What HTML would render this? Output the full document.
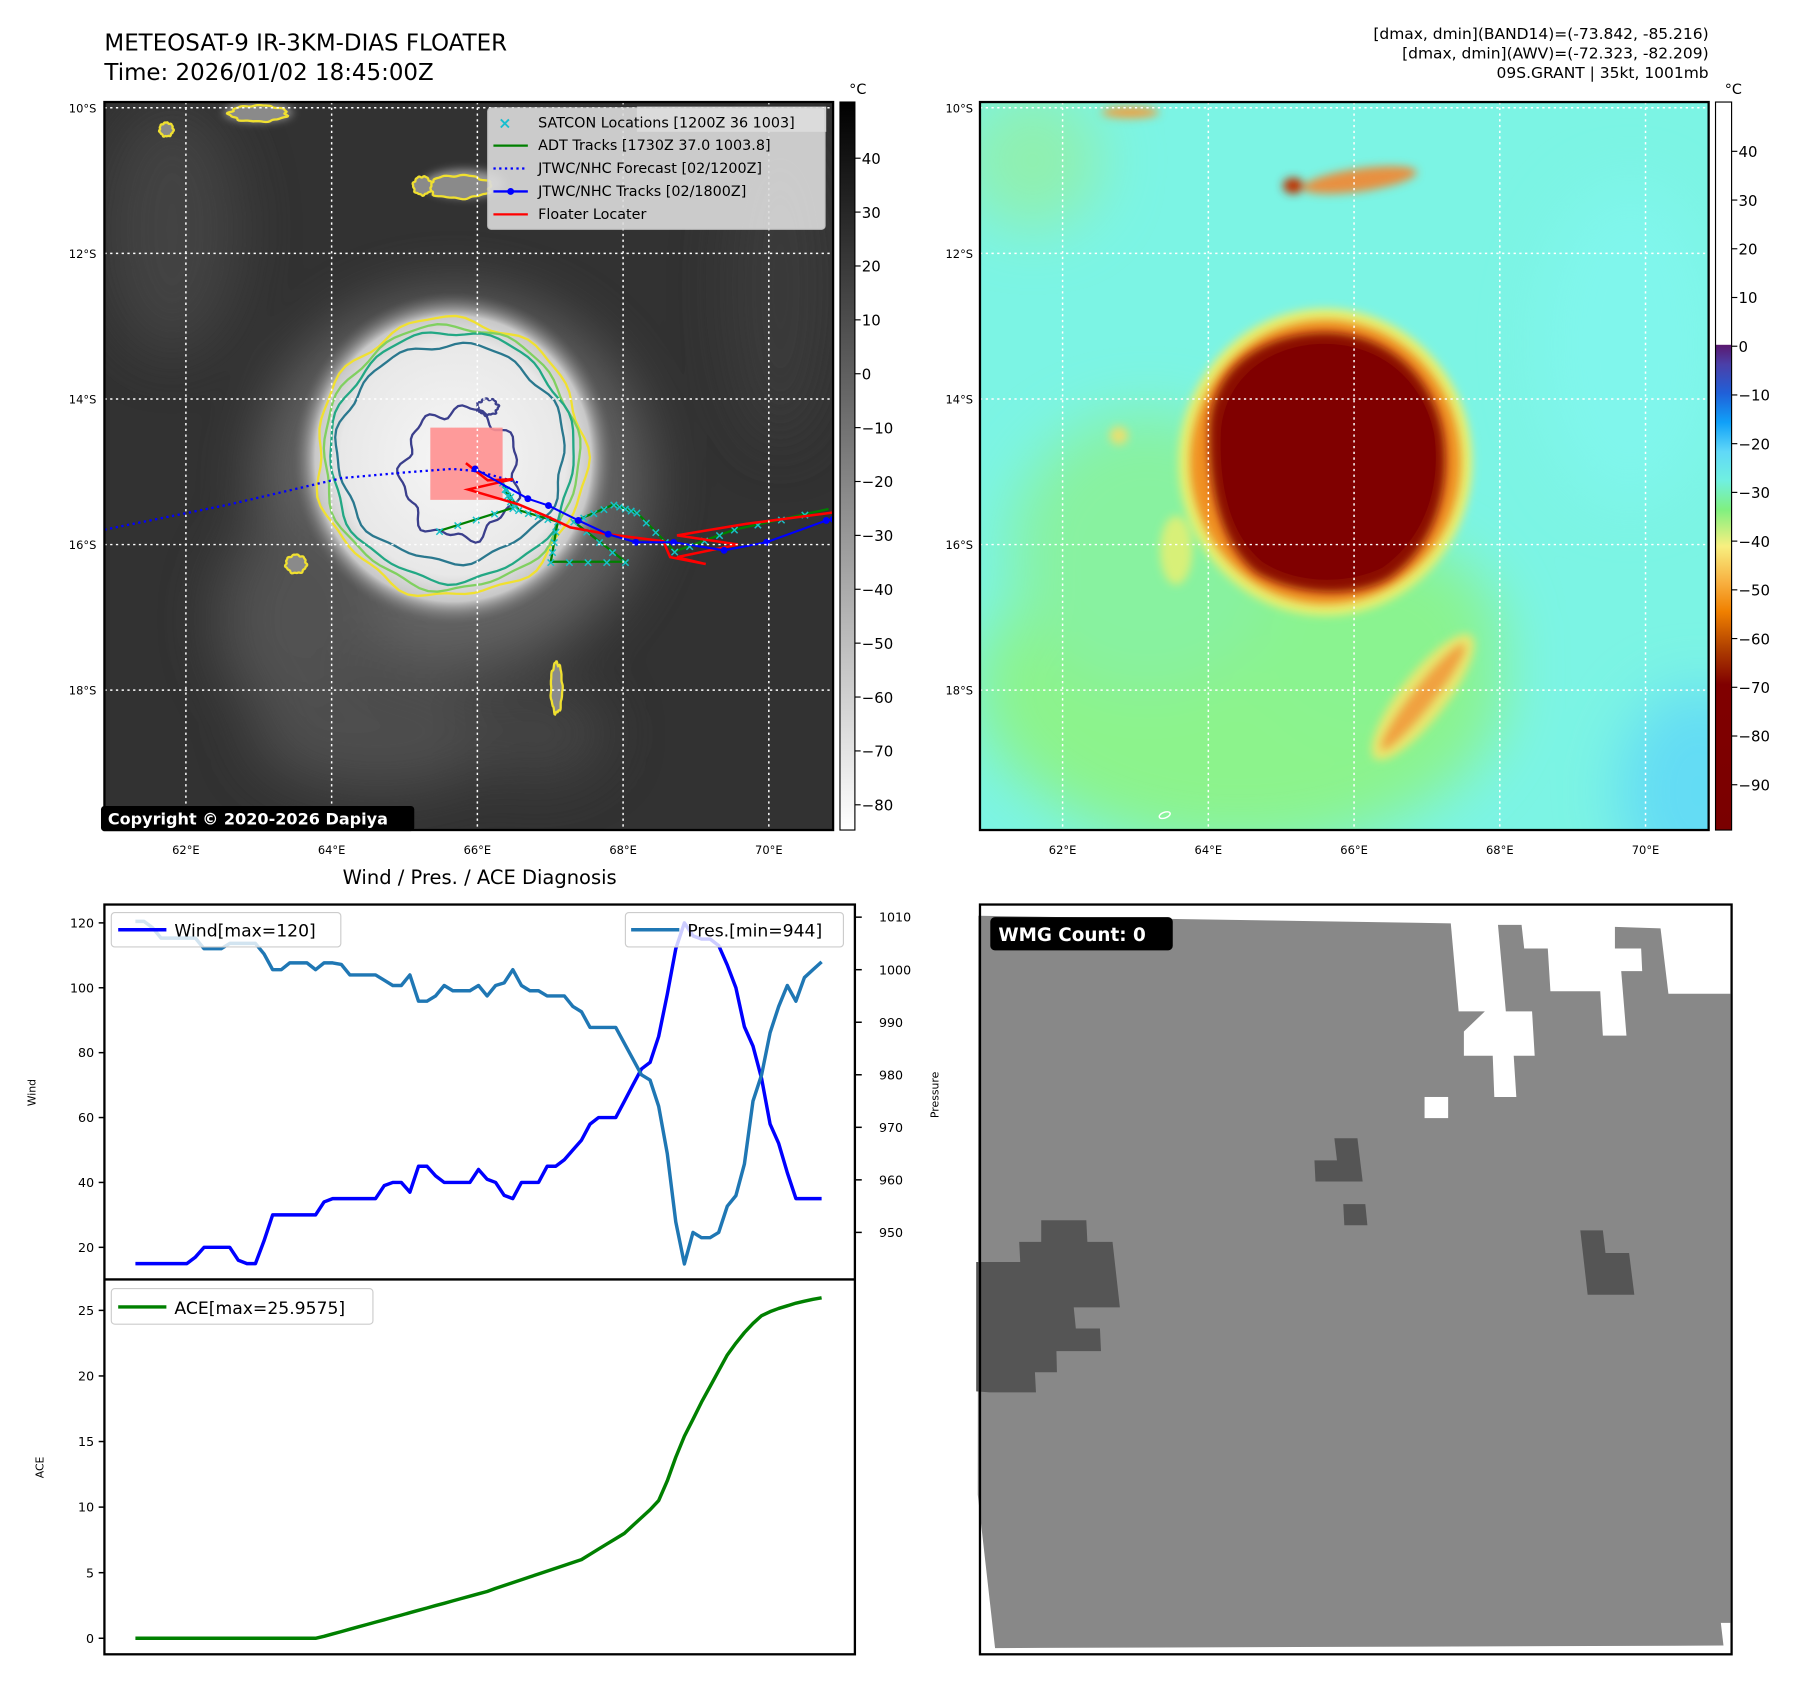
<!DOCTYPE html>
<html><head><meta charset="utf-8"><title>METEOSAT-9 Floater</title>
<style>
html,body{margin:0;padding:0;background:#fff}
svg{display:block}
text{font-family:"DejaVu Sans","Liberation Sans",sans-serif}
</style></head>
<body>
<svg id="fig" xmlns="http://www.w3.org/2000/svg" width="1797" height="1691" viewBox="0 0 1566 1475" preserveAspectRatio="none">
<defs>
  <filter id="b2"><feGaussianBlur stdDeviation="2"/></filter>
  <filter id="b4"><feGaussianBlur stdDeviation="4"/></filter>
  <filter id="b10"><feGaussianBlur stdDeviation="10"/></filter>
  <filter id="b25"><feGaussianBlur stdDeviation="25"/></filter>
  <clipPath id="clipL"><rect x="91" y="89" width="635" height="635"/></clipPath>
  <clipPath id="clipR"><rect x="854" y="89" width="635" height="635"/></clipPath>
  <clipPath id="clipW"><rect x="91" y="789" width="654" height="327"/></clipPath>
  <clipPath id="clipA"><rect x="91" y="1116" width="654" height="327"/></clipPath>
  <linearGradient id="cbGray" x1="0" y1="0" x2="0" y2="1">
    <stop offset="0" stop-color="#000"/><stop offset="1" stop-color="#fff"/>
  </linearGradient>
  <linearGradient id="cbJet" x1="0" y1="0" x2="0" y2="1">
    <stop offset="0" stop-color="#fff"/><stop offset="0.333" stop-color="#fff"/>
    <stop offset="0.334" stop-color="#5a1a70"/><stop offset="0.36" stop-color="#4b3fa8"/>
    <stop offset="0.40" stop-color="#2060d8"/><stop offset="0.44" stop-color="#10a0f8"/>
    <stop offset="0.48" stop-color="#60d8f8"/><stop offset="0.52" stop-color="#70f0e0"/>
    <stop offset="0.56" stop-color="#80f080"/><stop offset="0.61" stop-color="#f8f080"/>
    <stop offset="0.66" stop-color="#f8b040"/><stop offset="0.70" stop-color="#f08000"/>
    <stop offset="0.75" stop-color="#b04000"/><stop offset="0.80" stop-color="#800000"/>
    <stop offset="1" stop-color="#7a0000"/>
  </linearGradient>
  <radialGradient id="cloudCore" cx="0.5" cy="0.5" r="0.5">
    <stop offset="0" stop-color="#f6f6f6"/><stop offset="0.7" stop-color="#e8e8e8"/>
    <stop offset="0.86" stop-color="#c8c8c8"/><stop offset="1" stop-color="#6a6a6a" stop-opacity="0"/>
  </radialGradient>
</defs>

<text x="91" y="44" font-size="20">METEOSAT-9 IR-3KM-DIAS FLOATER</text>
<text x="91" y="70" font-size="20">Time: 2026/01/02 18:45:00Z</text>
<g font-size="13.5" text-anchor="end">
  <text x="1489" y="34">[dmax, dmin](BAND14)=(-73.842, -85.216)</text>
  <text x="1489" y="51">[dmax, dmin](AWV)=(-72.323, -82.209)</text>
  <text x="1489" y="68">09S.GRANT | 35kt, 1001mb</text>
</g>

<g>
 <g clip-path="url(#clipL)">
  <rect x="91" y="89" width="635" height="635" fill="#323232"/>
  <g filter="url(#b25)" opacity="0.8">
    <ellipse cx="395" cy="420" rx="170" ry="165" fill="#707070"/>
    <ellipse cx="260" cy="540" rx="70" ry="90" fill="#5a5a5a"/>
    <ellipse cx="330" cy="640" rx="110" ry="50" fill="#555"/>
    <ellipse cx="150" cy="200" rx="60" ry="110" fill="#474747"/>
    <ellipse cx="470" cy="640" rx="60" ry="40" fill="#4a4a4a"/>
    <ellipse cx="680" cy="250" rx="45" ry="140" fill="#3e3e3e"/>
  </g>
  <ellipse cx="395" cy="400" rx="140" ry="145" fill="url(#cloudCore)"/>
  <g filter="url(#b4)">
    <ellipse cx="405" cy="160" rx="35" ry="12" fill="#9a9a9a"/>
    <ellipse cx="225" cy="98" rx="30" ry="8" fill="#999"/>
  </g>
  <g id="contours" fill="none" stroke-width="2"></g>
  <rect x="375" y="373" width="63" height="63" fill="#ff9090" opacity="0.9"/>
  <g id="tracks"></g>
  <g id="gridL" stroke="#fff" stroke-width="1.3" stroke-dasharray="2,3"></g>
  <g>
    <rect x="555" y="93" width="165" height="22" fill="#fff" opacity="0.8"/>
    <rect x="425" y="94" width="294" height="106" rx="3" fill="#dcdcdc" opacity="0.9" stroke="#ccc"/>
    <text x="440" y="112" font-size="14" fill="#17becf" font-weight="bold" text-anchor="middle">×</text>
    <line x1="430" y1="127" x2="460" y2="127" stroke="#008000" stroke-width="2"/>
    <line x1="430" y1="147" x2="460" y2="147" stroke="#0000ff" stroke-width="2" stroke-dasharray="2,3"/>
    <line x1="430" y1="167" x2="460" y2="167" stroke="#0000ff" stroke-width="2"/>
    <circle cx="445" cy="167" r="3" fill="#0000ff"/>
    <line x1="430" y1="187" x2="460" y2="187" stroke="#ff0000" stroke-width="2"/>
    <g font-size="12.5">
      <text x="469" y="111">SATCON Locations [1200Z 36 1003]</text>
      <text x="469" y="131">ADT Tracks [1730Z 37.0 1003.8]</text>
      <text x="469" y="151">JTWC/NHC Forecast [02/1200Z]</text>
      <text x="469" y="171">JTWC/NHC Tracks [02/1800Z]</text>
      <text x="469" y="191">Floater Locater</text>
    </g>
  </g>
 </g>
 <rect x="91" y="89" width="635" height="635" fill="none" stroke="#000" stroke-width="2"/>
 <g>
   <rect x="88" y="703" width="273" height="22" rx="3" fill="#000"/>
   <text x="94" y="719" font-size="14" font-weight="bold" fill="#fff">Copyright © 2020-2026 Dapiya</text>
 </g>
 <g>
   <rect x="732" y="89" width="13" height="635" fill="url(#cbGray)" stroke="#000" stroke-width="1"/>
   <text x="740" y="82" font-size="12.5">°C</text>
   <g id="cbLticks" font-size="13"></g>
 </g>
</g>

<g>
 <g clip-path="url(#clipR)">
  <rect x="854" y="89" width="635" height="635" fill="#7cf4e4"/>
  <g filter="url(#b25)">
    <ellipse cx="1080" cy="600" rx="230" ry="140" fill="#8cf38c"/>
    <ellipse cx="1000" cy="480" rx="120" ry="120" fill="#88f2a0"/>
    <ellipse cx="1200" cy="560" rx="110" ry="90" fill="#8af390"/>
    <ellipse cx="900" cy="140" rx="60" ry="60" fill="#90f0b0"/>
    <ellipse cx="1480" cy="690" rx="70" ry="90" fill="#64dcf4"/>
    <ellipse cx="1420" cy="300" rx="80" ry="140" fill="#80f6ec"/>
  </g>
  <g filter="url(#b4)">
    <ellipse cx="1155" cy="403" rx="128" ry="134" fill="#e8f070"/>
    <ellipse cx="1240" cy="608" rx="20" ry="68" transform="rotate(38 1240 608)" fill="#e8e870"/>
    <ellipse cx="1025" cy="480" rx="14" ry="30" fill="#d8f078"/>
    <ellipse cx="975" cy="380" rx="8" ry="8" fill="#e8e070"/>
  </g>
  <g filter="url(#b4)">
    <ellipse cx="1155" cy="403" rx="118" ry="124" fill="#f09020"/>
    <ellipse cx="1240" cy="608" rx="9" ry="58" transform="rotate(38 1240 608)" fill="#f0a040"/>
    <ellipse cx="1185" cy="157" rx="50" ry="10" transform="rotate(-8 1185 157)" fill="#e89040"/>
    <ellipse cx="1127" cy="162" rx="9" ry="7" fill="#c03000"/>
    <ellipse cx="985" cy="98" rx="25" ry="5" fill="#f0a040"/>
  </g>
  <g filter="url(#b4)">
    <path d="M1150 290 C1210 288 1250 330 1258 380 C1265 430 1248 480 1210 505 C1180 522 1130 520 1095 500 C1062 475 1052 420 1054 370 C1058 320 1100 292 1150 290 Z" fill="#8a0a00"/>
  </g>
  <path d="M1150 300 C1205 298 1242 335 1250 380 C1256 428 1240 470 1205 495 C1175 510 1130 510 1100 490 C1070 465 1062 420 1064 375 C1068 330 1105 302 1150 300 Z" fill="#800000"/>
  <g id="gridR" stroke="#fff" stroke-width="1.3" stroke-dasharray="2,3"></g>
  <ellipse cx="1015" cy="711" rx="5" ry="2.5" fill="none" stroke="#fff" stroke-width="1.2" transform="rotate(-20 1015 711)"/>
 </g>
 <rect x="854" y="89" width="635" height="635" fill="none" stroke="#000" stroke-width="2"/>
 <g>
   <rect x="1495" y="89" width="14" height="635" fill="url(#cbJet)" stroke="#000" stroke-width="1"/>
   <text x="1503" y="82" font-size="12.5">°C</text>
   <g id="cbRticks" font-size="13"></g>
 </g>
</g>

<g>
  <text x="418" y="771" font-size="17" text-anchor="middle">Wind / Pres. / ACE Diagnosis</text>
  <g id="chartW" clip-path="url(#clipW)"></g>
  <g id="chartA" clip-path="url(#clipA)"></g>
  <rect x="91" y="789" width="654" height="654" fill="none" stroke="#000" stroke-width="2"/>
  <line x1="91" y1="1116" x2="745" y2="1116" stroke="#000" stroke-width="2"/>
  <g id="axesTicks" font-size="11"></g>
  <text x="31" y="953" font-size="9.5" transform="rotate(-90 31 953)" text-anchor="middle">Wind</text>
  <text x="818" y="955" font-size="9.5" transform="rotate(-90 818 955)" text-anchor="middle">Pressure</text>
  <text x="38" y="1280" font-size="9.5" transform="rotate(-90 38 1280)" text-anchor="middle">ACE</text>
  <g>
    <rect x="97" y="796" width="200" height="30" rx="3" fill="#fff" fill-opacity="0.8" stroke="#ccc"/>
    <line x1="103" y1="811" x2="145" y2="811" stroke="#0000ff" stroke-width="3"/>
    <text x="152" y="817" font-size="15">Wind[max=120]</text>
  </g>
  <g>
    <rect x="545" y="796" width="190" height="30" rx="3" fill="#fff" fill-opacity="0.8" stroke="#ccc"/>
    <line x1="550" y1="811" x2="592" y2="811" stroke="#1f77b4" stroke-width="3"/>
    <text x="599" y="817" font-size="15">Pres.[min=944]</text>
  </g>
  <g>
    <rect x="97" y="1124" width="228" height="31" rx="3" fill="#fff" fill-opacity="0.8" stroke="#ccc"/>
    <line x1="103" y1="1140" x2="145" y2="1140" stroke="#008000" stroke-width="3"/>
    <text x="152" y="1146" font-size="15">ACE[max=25.9575]</text>
  </g>
</g>

<g>
  <rect x="854" y="789" width="655" height="654" fill="#fff"/>
  <g transform="translate(850.7,781.25) scale(0.457,0.439)">
    <polygon points="4,40 905,55 920,230 970,230 930,270 930,318 985,318 988,400 1030,400 1025,318 1065,318 1060,230 1010,230 995,58 1040,58 1045,105 1090,105 1095,190 1190,190 1195,278 1240,278 1230,150 1270,150 1268,105 1218,105 1218,62 1305,65 1320,195 1438,195 1438,1445 1420,1445 1425,1490 36,1495 3,1190" fill="#888"/>
    <rect x="855" y="400" width="45" height="42" fill="#fff"/>
    <g fill="#555">
      <polygon points="683,482 727,482 737,568 690,568 690,568 647,568 645,526 688,526"/>
      <polygon points="700,613 742,613 746,655 702,655"/>
      <polygon points="1152,665 1195,665 1200,710 1245,710 1255,793 1166,793"/>
      <polygon points="0,728 84,728 82,688 124,688 124,645 210,645 212,688 260,688 274,818 186,818 190,860 236,860 238,905 153,905 154,947 112,947 114,987 26,987 0,985"/>
    </g>
  </g>
  <rect x="854" y="789" width="655" height="654" fill="none" stroke="#000" stroke-width="2"/>
  <g>
    <rect x="863" y="800" width="159" height="29" rx="4" fill="#000"/>
    <text x="870" y="821" font-size="16" font-weight="bold" fill="#fff">WMG Count: 0</text>
  </g>
</g>
</svg>

<script>
const windValues = [15,15,15,15,15,15,15,17,20,20,20,20,16,15,15,22,30,30,30,30,30,30,34,35,35,35,35,35,35,39,40,40,37,45,45,42,40,40,40,40,44,41,40,36,35,40,40,40,45,45,47,50,53,58,60,60,60,65,70,75,77,85,98,112,120,116,115,115,113,107,100,88,82,72,58,52,43,35,35,35,35];
const presValues = [1009.2,1009.2,1008,1006,1006,1006,1006,1006,1004,1004,1004,1005,1005,1005,1005,1003,1000,1000,1001.3,1001.3,1001.3,1000,1001.3,1001.3,1001,999,999,999,999,998,997,997,999,994,994,995,997,996,996,996,997,995,997,997.5,1000,997,996,996,995,995,995,993,992,989,989,989,989,986,983,980,979,974,965,952,944,950,949,949,950,955,957,963,975,980,988,993,997,994,998.5,1000,1001.5];
const aceValues = [0,0,0,0,0,0,0,0,0,0,0,0,0,0,0,0,0,0,0,0,0,0,0.15,0.33,0.51,0.69,0.87,1.05,1.23,1.41,1.59,1.77,1.95,2.13,2.31,2.49,2.67,2.85,3.03,3.21,3.39,3.57,3.8,4.02,4.24,4.46,4.68,4.9,5.12,5.34,5.56,5.78,6.0,6.4,6.8,7.2,7.6,8.0,8.6,9.2,9.8,10.5,12.0,13.8,15.4,16.7,18.0,19.2,20.4,21.6,22.5,23.3,24.0,24.6,24.9,25.15,25.35,25.55,25.7,25.85,25.96];
const windTicks = [20,40,60,80,100,120];
const presTicks = [950,960,970,980,990,1000,1010];
const aceTicks = [0,5,10,15,20,25];
const latLabels = ["10°S","12°S","14°S","16°S","18°S"];
const lonLabels = ["62°E","64°E","66°E","68°E","70°E"];
const irCbTicks = [40,30,20,10,0,-10,-20,-30,-40,-50,-60,-70,-80];
const awvCbTicks = [40,30,20,10,0,-10,-20,-30,-40,-50,-60,-70,-80,-90];

const NS = "http://www.w3.org/2000/svg";
function mk(tag, attrs, parent){ const e=document.createElementNS(NS,tag); for(const k in attrs) e.setAttribute(k,attrs[k]); parent.appendChild(e); return e; }

const xIdx = i => 118 + i*(598/(windValues.length-1));
const yWind = v => 1088 - (v-20)*2.83;
const yPres = v => 800 + (1010-v)*4.583;
const yAce = v => 1429 - v*11.44;

function linePath(vals, yf){ return vals.map((v,i)=>(i?'L':'M')+xIdx(i).toFixed(1)+' '+yf(v).toFixed(1)).join(' '); }

const cW = document.getElementById('chartW');
const wl = mk('path',{d:linePath(windValues,yWind),fill:'none',stroke:'#0000ff','stroke-width':3,'stroke-linejoin':'round'},cW);


const pl = mk('path',{d:linePath(presValues,yPres),fill:'none',stroke:'#1f77b4','stroke-width':3,'stroke-linejoin':'round'},cW);


const cA = document.getElementById('chartA');
const al = mk('path',{d:linePath(aceValues,yAce),fill:'none',stroke:'#008000','stroke-width':3,'stroke-linejoin':'round'},cA);



const at = document.getElementById('axesTicks');
windTicks.forEach(v=>{ const y=yWind(v);
  mk('line',{x1:86,y1:y,x2:91,y2:y,stroke:'#000','stroke-width':1.3},at);
  const t=mk('text',{x:82,y:y+4,'text-anchor':'end'},at); t.textContent=v;
  
   });
presTicks.forEach(v=>{ const y=yPres(v);
  mk('line',{x1:745,y1:y,x2:751,y2:y,stroke:'#000','stroke-width':1.3},at);
  const t=mk('text',{x:766,y:y+4},at); t.textContent=v;
  
   });
aceTicks.forEach(v=>{ const y=yAce(v);
  mk('line',{x1:86,y1:y,x2:91,y2:y,stroke:'#000','stroke-width':1.3},at);
  const t=mk('text',{x:82,y:y+4,'text-anchor':'end'},at); t.textContent=v;
  
   });

const latY = k => 94 + k*127;
const lonXL = k => 162 + k*127;
function grid(id, x0, x1, xoff){
  const g=document.getElementById(id);
  latLabels.forEach((s,k)=>mk('line',{x1:x0,y1:latY(k),x2:x1,y2:latY(k)},g));
  lonLabels.forEach((s,k)=>mk('line',{x1:lonXL(k)+xoff,y1:89,x2:lonXL(k)+xoff,y2:724},g));
}
grid('gridL',91,726,0); grid('gridR',854,1489,764);
const svg=document.getElementById('fig');
[0,764].forEach(off=>{
  latLabels.forEach((s,k)=>{ const t=mk('text',{x:84+off,y:latY(k)+4,'font-size':10,'text-anchor':'end'},svg); t.textContent=s;
    
     });
  lonLabels.forEach((s,k)=>{ const t=mk('text',{x:lonXL(k)+off,y:745,'font-size':10,'text-anchor':'middle'},svg); t.textContent=s;
    
     });
});
const cbL=document.getElementById('cbLticks');
irCbTicks.forEach((v,k)=>{ const y=138+k*47;
  mk('line',{x1:745,y1:y,x2:750,y2:y,stroke:'#000'},cbL);
  const t=mk('text',{x:751,y:y+5},cbL); t.textContent=String(v).replace('-','\u2212');
  
   });
const cbR=document.getElementById('cbRticks');
awvCbTicks.forEach((v,k)=>{ const y=132+k*42.5;
  mk('line',{x1:1509,y1:y,x2:1514,y2:y,stroke:'#000'},cbR);
  const t=mk('text',{x:1515,y:y+5},cbR); t.textContent=String(v).replace('-','\u2212');
  
   });

function wobble(cx,cy,rx,ry,amp,seed){
  let d='';
  for(let a=0;a<=360;a+=4){
    const r=a*Math.PI/180;
    const w=1+amp*(Math.sin(r*7+seed)*0.6+Math.sin(r*13+seed*2)*0.4);
    const x=cx+rx*w*Math.cos(r), y=cy+ry*w*Math.sin(r);
    d+=(a?'L':'M')+x.toFixed(1)+' '+y.toFixed(1);
  }
  return d+'Z';
}
const cg=document.getElementById('contours');
[[393,399,117,121,0.04,1,'#f0e030'],[393,399,111,115,0.03,2,'#80d060'],[394,398,106,109,0.03,3,'#22a884'],[393,395,99,95,0.04,4,'#2a788e'],[401,413,50,56,0.12,5,'#3b3f8c']].forEach(c=>{
  const p=mk('path',{d:wobble(c[0],c[1],c[2],c[3],c[4],c[5]),stroke:c[6],fill:'none','stroke-width':2},cg);
  
  
});
[[145,113,6,6],[225,99,25,7],[258,492,9,8],[400,163,28,10],[368,162,8,8],[485,600,5,22]].forEach(c=>{
  mk('path',{d:wobble(c[0],c[1],c[2],c[3],0.1,c[0]),stroke:'#f0e030',fill:'#8a8a8a','stroke-width':2},cg);
});
mk('path',{d:wobble(425,355,9,7,0.15,2),stroke:'#3b3f8c',fill:'none','stroke-width':2},cg);

const tg=document.getElementById('tracks');
const greenPts=[[383,463],[447,443],[438,421],[452,445],[486,455],[480,490],[545,490],[500,455],[535,440],[555,447],[588,481],[640,462],[722,444]];
const redPts=[[406,404],[425,419],[447,418],[408,427],[452,440],[478,451],[497,460],[530,466],[578,472],[584,486],[615,492],[590,486],[643,475],[590,467],[650,457],[726,447]];
const blueTrack=[[414,409],[460,435],[478,441],[504,454],[530,466],[554,473],[587,473],[631,480],[668,473],[720,454],[726,453]];
const blueFcst=[[91,462],[200,440],[298,417],[354,412],[394,409],[416,411],[452,421]];
const pd=pts=>pts.map((p,i)=>(i?'L':'M')+p[0]+' '+p[1]).join(' ');
mk('path',{d:pd(greenPts),fill:'none',stroke:'#008000','stroke-width':2},tg);
for(let i=0;i<greenPts.length-1;i++){ for(let s=0;s<4;s++){
  const x=greenPts[i][0]+(greenPts[i+1][0]-greenPts[i][0])*s/4, y=greenPts[i][1]+(greenPts[i+1][1]-greenPts[i][1])*s/4;
  const t=mk('text',{x:x,y:y+4,'font-size':11,'font-weight':'bold',fill:'#17c0c8','text-anchor':'middle'},tg); t.textContent='×'; } }
mk('path',{d:pd(blueFcst),fill:'none',stroke:'#0000ff','stroke-width':2,'stroke-dasharray':'2,3'},tg);
mk('path',{d:pd(redPts),fill:'none',stroke:'#ff0000','stroke-width':2.2},tg);
mk('path',{d:pd(blueTrack),fill:'none',stroke:'#0000ff','stroke-width':1.8},tg);
blueTrack.forEach(p=>mk('circle',{cx:p[0],cy:p[1],r:3,fill:'#0000ff'},tg));
</script>
</body></html>
